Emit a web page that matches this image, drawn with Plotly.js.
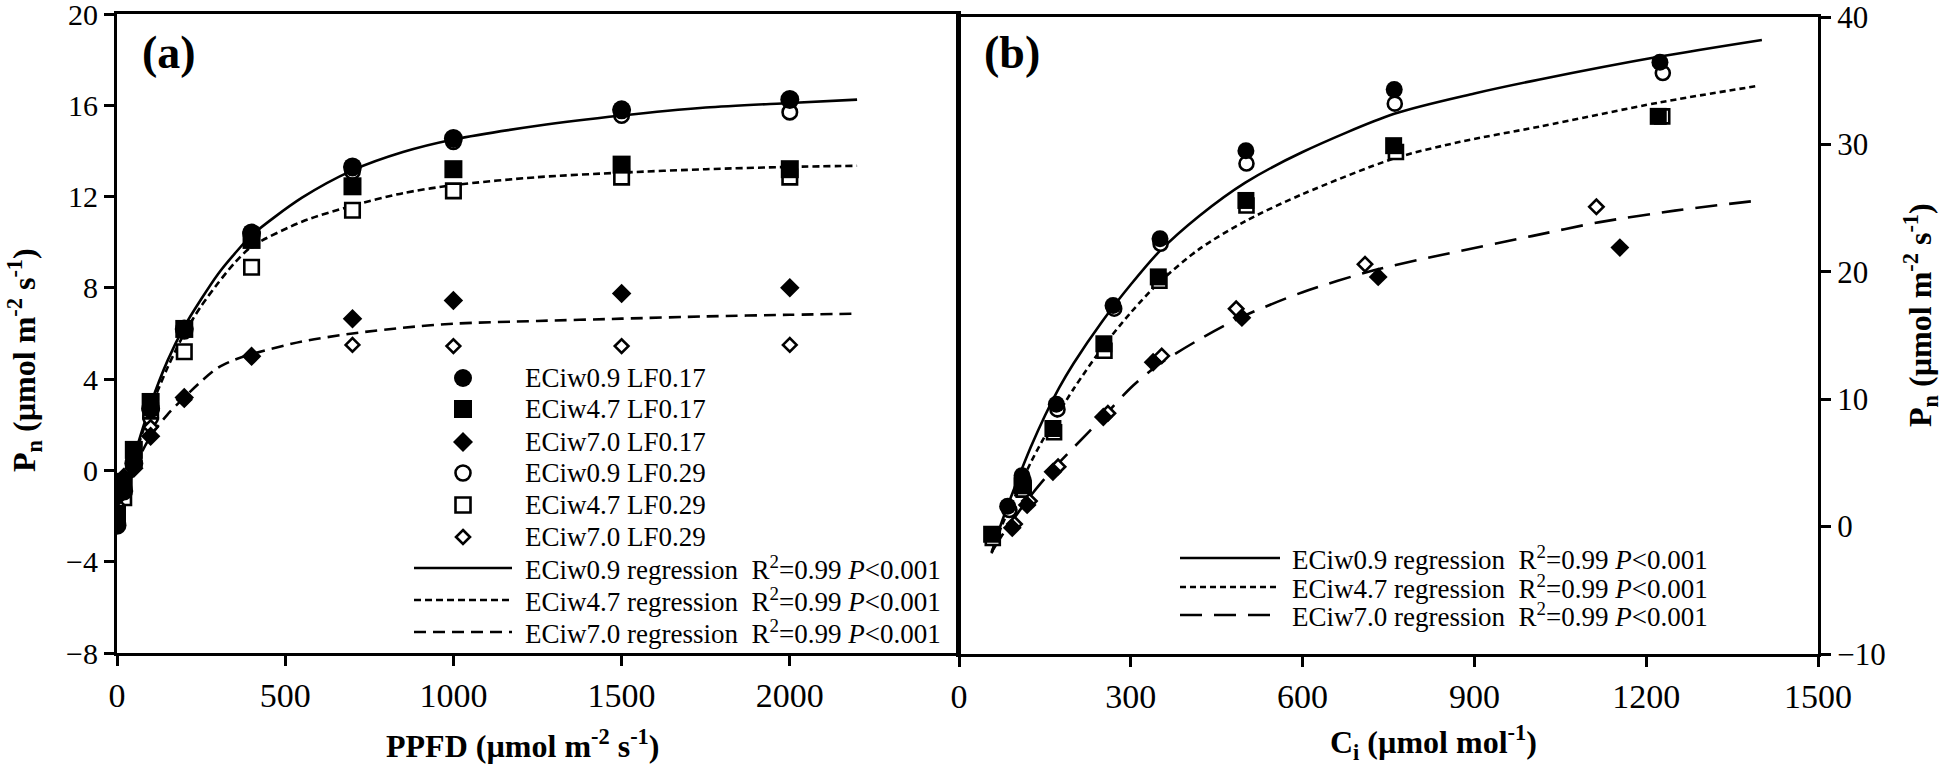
<!DOCTYPE html>
<html><head><meta charset="utf-8">
<script src="https://cdn.plot.ly/plotly-3.0.1.min.js"></script>
<style>html,body{margin:0;padding:0;background:#fff;}#chart{width:1946px;height:766px;}</style>
</head><body><div id="chart"></div>
<script>
// ---------- Panel (a): light response ----------
const ppfd = [0, 20, 50, 100, 200, 400, 700, 1000, 1500, 2000];
const pnA_EC09_LF017 = [-2.4, -0.9, 0.3, 2.7, 6.2, 10.4, 13.3, 14.55, 15.8, 16.25];
const pnA_EC47_LF017 = [-1.9, -0.5, 0.9, 3.0, 6.2, 10.1, 12.45, 13.2, 13.4, 13.2];
const pnA_EC70_LF017 = [-1.2, -0.3, 0.1, 1.5, 3.2, 5.0, 6.65, 7.45, 7.75, 8.0];
const pnA_EC09_LF029 = [-2.1, -0.7, 0.4, 2.3, 6.1, 10.1, 13.1, 14.4, 15.55, 15.7];
const pnA_EC47_LF029 = [-1.7, -1.2, 0.5, 2.6, 5.2, 8.9, 11.4, 12.25, 12.85, 12.85];
const pnA_EC70_LF029 = [-1.5, -0.4, 0.2, 1.9, 3.1, 5.0, 5.5, 5.45, 5.45, 5.5];

const fitA_ppfd = [0, 20, 50, 100, 150, 200, 250, 300, 350, 400, 550, 700, 850, 1000, 1250, 1500, 1750, 2000, 2200];
const fitA_EC09 = [-1.6, -0.7, 0.6, 2.9, 4.8, 6.3, 7.5, 8.6, 9.5, 10.3, 11.95, 13.15, 13.95, 14.5, 15.1, 15.55, 15.9, 16.1, 16.25];
const fitA_EC47 = [-1.6, -0.8, 0.5, 2.7, 4.5, 6.0, 7.2, 8.2, 9.1, 9.8, 10.9, 11.6, 12.15, 12.5, 12.85, 13.05, 13.2, 13.3, 13.35];
const fitA_EC70 = [-1.4, -0.8, 0.1, 1.5, 2.45, 3.2, 3.9, 4.5, 4.85, 5.1, 5.65, 6.0, 6.25, 6.43, 6.55, 6.65, 6.75, 6.82, 6.87];

// ---------- Panel (b): CO2 response ----------
const ciB_EC09_LF017 = [85, 110, 170, 269, 351, 501, 760, 1224];
const pnB_EC09_LF017 = [1.6, 4.0, 9.6, 17.35, 22.6, 29.5, 34.3, 36.45];
const ciB_EC09_LF029 = [88, 113, 172, 271, 352, 502, 761, 1229];
const pnB_EC09_LF029 = [1.3, 3.6, 9.2, 17.1, 22.2, 28.5, 33.2, 35.6];
const ciB_EC47_LF017 = [57, 110, 164, 253, 348, 501, 759, 1221];
const pnB_EC47_LF017 = [-0.6, 3.2, 7.7, 14.35, 19.6, 25.6, 29.9, 32.2];
const ciB_EC47_LF029 = [59, 113, 166, 254, 350, 502, 763, 1228];
const pnB_EC47_LF029 = [-0.9, 2.9, 7.4, 13.8, 19.3, 25.2, 29.4, 32.2];
const ciB_EC70_LF017 = [93, 119, 164, 252, 339, 494, 732, 1154];
const pnB_EC70_LF017 = [-0.1, 1.7, 4.3, 8.6, 12.9, 16.4, 19.6, 21.9];
const ciB_EC70_LF029 = [97, 123, 173, 260, 354, 484, 709, 1113];
const pnB_EC70_LF029 = [0.2, 2.0, 4.7, 8.9, 13.4, 17.1, 20.6, 25.1];

const fitB_EC09_ci = [57, 75, 100, 125, 150, 175, 200, 250, 300, 350, 420, 500, 600, 760, 900, 1014, 1224, 1402];
const fitB_EC09_pn = [-2.1, 0.4, 3.4, 6.2, 8.7, 10.9, 12.8, 16.1, 19.0, 21.6, 24.4, 27.0, 29.4, 32.4, 34.0, 35.1, 36.9, 38.2];
const fitB_EC47_ci = [57, 75, 100, 125, 150, 200, 253, 300, 348, 420, 501, 600, 760, 875, 1014, 1224, 1396];
const fitB_EC47_pn = [-2.0, 0.1, 2.6, 5.0, 7.1, 10.8, 14.2, 16.8, 19.1, 21.8, 24.0, 26.1, 28.9, 30.2, 31.4, 33.3, 34.6];
const fitB_EC70_ci = [57, 75, 100, 130, 164, 200, 252, 300, 348, 420, 491, 600, 723, 840, 1000, 1119, 1250, 1396];
const fitB_EC70_pn = [-2.0, -0.7, 0.9, 2.7, 4.5, 6.2, 8.6, 10.9, 12.7, 14.7, 16.4, 18.4, 20.1, 21.3, 22.8, 23.9, 24.8, 25.6];

// ---------- labels ----------
const seriesNames = ['ECiw0.9 LF0.17','ECiw4.7 LF0.17','ECiw7.0 LF0.17','ECiw0.9 LF0.29','ECiw4.7 LF0.29','ECiw7.0 LF0.29'];
const fitNames = ['ECiw0.9 regression','ECiw4.7 regression','ECiw7.0 regression'];
const statText = 'R<sup>2</sup>=0.99 <i>P</i>&lt;0.001';
const xTicksA = [0, 500, 1000, 1500, 2000];
const xTicksB = [0, 300, 600, 900, 1200, 1500];
const yTicksA = [-8, -4, 0, 4, 8, 12, 16, 20];
const yTicksB = [-10, 0, 10, 20, 30, 40];

// ---------- helpers ----------
const W = 1946, H = 766;
const PX = p => p / W, PY = p => 1 - p / H;
const FONT = '"Liberation Serif", "Times New Roman", Times, serif';
const BLK = '#000';

const dashA = ['solid', '7px,4px', '12px,7px'];
const dashB = ['solid', '6px,4px', '22px,12px'];

function fit(x, y, dash, xa, ya) {
  return {x, y, xaxis: xa, yaxis: ya, mode: 'lines', type: 'scatter', showlegend: false, hoverinfo: 'skip',
    line: {color: BLK, width: 2.6, dash, shape: 'spline', smoothing: 0.8}};
}
function pts(x, y, symbol, size, open, xa, ya, name) {
  return {x, y, xaxis: xa, yaxis: ya, mode: 'markers', type: 'scatter', showlegend: false, name,
    marker: {symbol, size, color: open ? '#fff' : BLK, line: {color: BLK, width: open ? 2.6 : 0}}};
}

const traces = [
  fit(fitA_ppfd, fitA_EC09, dashA[0], 'x', 'y'),
  fit(fitA_ppfd, fitA_EC47, dashA[1], 'x', 'y'),
  fit(fitA_ppfd, fitA_EC70, dashA[2], 'x', 'y'),
  pts(ppfd, pnA_EC09_LF029, 'circle', 14.5, true, 'x', 'y', seriesNames[3]),
  pts(ppfd, pnA_EC47_LF029, 'square', 14.5, true, 'x', 'y', seriesNames[4]),
  pts(ppfd, pnA_EC70_LF029, 'diamond', 10.5, true, 'x', 'y', seriesNames[5]),
  pts(ppfd, pnA_EC09_LF017, 'circle', 19, false, 'x', 'y', seriesNames[0]),
  pts(ppfd, pnA_EC47_LF017, 'square', 18, false, 'x', 'y', seriesNames[1]),
  pts(ppfd, pnA_EC70_LF017, 'diamond', 15, false, 'x', 'y', seriesNames[2]),

  fit(fitB_EC09_ci, fitB_EC09_pn, dashB[0], 'x2', 'y2'),
  fit(fitB_EC47_ci, fitB_EC47_pn, dashB[1], 'x2', 'y2'),
  fit(fitB_EC70_ci, fitB_EC70_pn, dashB[2], 'x2', 'y2'),
  pts(ciB_EC09_LF029, pnB_EC09_LF029, 'circle', 14, true, 'x2', 'y2', seriesNames[3]),
  pts(ciB_EC47_LF029, pnB_EC47_LF029, 'square', 14, true, 'x2', 'y2', seriesNames[4]),
  pts(ciB_EC70_LF029, pnB_EC70_LF029, 'diamond', 11, true, 'x2', 'y2', seriesNames[5]),
  pts(ciB_EC09_LF017, pnB_EC09_LF017, 'circle', 17, false, 'x2', 'y2', seriesNames[0]),
  pts(ciB_EC47_LF017, pnB_EC47_LF017, 'square', 17, false, 'x2', 'y2', seriesNames[1]),
  pts(ciB_EC70_LF017, pnB_EC70_LF017, 'diamond', 14.5, false, 'x2', 'y2', seriesNames[2])
];

const axisBase = {showline: true, linewidth: 3, linecolor: BLK, mirror: true, ticks: 'outside', ticklen: 10,
  tickwidth: 3, tickcolor: BLK, showgrid: false, zeroline: false, fixedrange: true, ticklabeloverflow: 'allow'};

const layout = {
  width: W, height: H, margin: {l: 0, r: 0, t: 0, b: 0}, paper_bgcolor: '#fff', plot_bgcolor: 'rgba(0,0,0,0)',
  showlegend: false, font: {family: FONT, color: BLK},
  xaxis: Object.assign({}, axisBase, {domain: [PX(117), PX(958)], range: [0, 2500], tickvals: xTicksA,
    tickfont: {family: FONT, size: 34, color: BLK}, anchor: 'y'}),
  yaxis: Object.assign({}, axisBase, {domain: [PY(653), PY(14)], range: [-8, 20], tickvals: yTicksA,
    tickfont: {family: FONT, size: 30, color: BLK}, anchor: 'x'}),
  xaxis2: Object.assign({}, axisBase, {domain: [PX(959), PX(1818)], range: [0, 1500], tickvals: xTicksB,
    tickfont: {family: FONT, size: 34, color: BLK}, anchor: 'y2'}),
  yaxis2: Object.assign({}, axisBase, {domain: [PY(654), PY(17)], range: [-10, 40], tickvals: yTicksB, side: 'right',
    tickfont: {family: FONT, size: 31, color: BLK}, anchor: 'x2'}),
  annotations: [], shapes: []
};

function ann(text, px, py, size, opts) {
  layout.annotations.push(Object.assign({text, x: PX(px), y: PY(py), xref: 'paper', yref: 'paper', showarrow: false,
    xanchor: 'center', yanchor: 'middle', font: {family: FONT, size, color: BLK}}, opts || {}));
}
// panel labels
ann('<b>(a)</b>', 140, 53, 46, {xanchor: 'left'});
ann('<b>(b)</b>', 982, 53, 46, {xanchor: 'left'});
// axis titles
ann('<b>P<sub>n</sub> (µmol m<sup>-2</sup> s<sup>-1</sup>)</b>', 24, 360, 32, {textangle: -90});
ann('<b>PPFD (µmol m<sup>-2</sup> s<sup>-1</sup>)</b>', 522, 744, 32);
ann('<b>C<sub>i</sub> (µmol mol<sup>-1</sup>)</b>', 1433, 742, 32);
ann('<b>P<sub>n</sub> (µmol m<sup>-2</sup> s<sup>-1</sup>)</b>', 1920, 315, 32, {textangle: -90});

// ---------- legend (a) ----------
const legA_rows = [378, 409, 442, 473, 505, 537, 568, 600, 632];
const legSym = [
  {t: 'circle', open: false, r: 9}, {t: 'square', open: false, r: 9}, {t: 'diamond', open: false, r: 10},
  {t: 'circle', open: true, r: 7.5}, {t: 'square', open: true, r: 7.5}, {t: 'diamond', open: true, r: 7}
];
function symShape(s, cx, cy) {
  const base = {xref: 'paper', yref: 'paper', xsizemode: 'pixel', ysizemode: 'pixel', xanchor: PX(cx), yanchor: PY(cy),
    fillcolor: s.open ? '#fff' : BLK, line: {color: BLK, width: s.open ? 2.6 : 0}};
  if (s.t === 'circle') return Object.assign(base, {type: 'circle', x0: -s.r, x1: s.r, y0: -s.r, y1: s.r});
  if (s.t === 'square') return Object.assign(base, {type: 'rect', x0: -s.r, x1: s.r, y0: -s.r, y1: s.r});
  return Object.assign(base, {type: 'path', path: `M0,${s.r} L${s.r},0 L0,${-s.r} L${-s.r},0 Z`});
}
seriesNames.forEach((n, i) => {
  layout.shapes.push(symShape(legSym[i], 463, legA_rows[i]));
  ann(n, 523, legA_rows[i], 27, {xanchor: 'left'});
});
fitNames.forEach((n, i) => {
  const py = legA_rows[6 + i];
  layout.shapes.push({type: 'line', xref: 'paper', yref: 'paper', x0: PX(414), x1: PX(512), y0: PY(py), y1: PY(py),
    line: {color: BLK, width: 2.6, dash: dashA[i]}});
  ann(n + ' \u00a0' + statText, 523, py, 27, {xanchor: 'left'});
});

// ---------- legend (b) ----------
const legB_rows = [558, 587, 615];
fitNames.forEach((n, i) => {
  const py = legB_rows[i];
  layout.shapes.push({type: 'line', xref: 'paper', yref: 'paper', x0: PX(1180), x1: PX(1280), y0: PY(py), y1: PY(py),
    line: {color: BLK, width: 2.6, dash: dashB[i]}});
  ann(n + ' \u00a0' + statText, 1290, py, 27, {xanchor: 'left'});
});

Plotly.newPlot('chart', traces, layout, {staticPlot: true, displayModeBar: false});
</script></body></html>
